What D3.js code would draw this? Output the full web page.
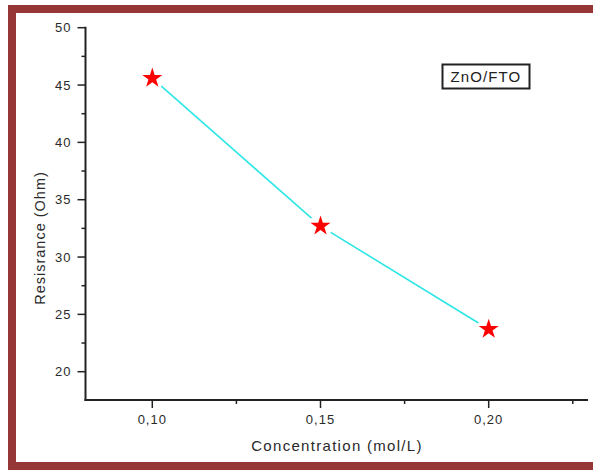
<!DOCTYPE html>
<html lang='en'>
<head>
    <meta charset='UTF-8'>
    <title>ZnO/FTO resistance</title>
    <script src='https://cdnjs.cloudflare.com/ajax/libs/d3/7.8.5/d3.min.js'></script>
    <style>
        html, body { margin: 0; padding: 0; background: #fff; }
        svg { display: block; font-family: Arial, 'Liberation Sans', sans-serif; }
    </style>
</head>
<body>
    <div id='anchor'></div>
    <script>
        // data
        const concentration = [0.10, 0.15, 0.20];
        const resistance = [45.6, 32.7, 23.7];
        const yTicks = [20, 25, 30, 35, 40, 45, 50];
        const xTicks = [0.10, 0.15, 0.20];
        const seriesName = 'ZnO/FTO';

        const W = 593, H = 471;
        const svg = d3.select('#anchor').append('svg')
            .attr('width', W)
            .attr('height', H);

        // frame (left, top, bottom)
        const frame = '#973636';
        svg.append('rect').attr('x', 8).attr('y', 5).attr('width', W - 8).attr('height', 8).attr('fill', frame);
        svg.append('rect').attr('x', 8).attr('y', 5).attr('width', 8).attr('height', 465).attr('fill', frame);
        svg.append('rect').attr('x', 8).attr('y', 462).attr('width', W - 8).attr('height', 8).attr('fill', frame);

        const x = d3.scaleLinear().domain([0.10, 0.20]).range([152.3, 488.7]);
        const y = d3.scaleLinear().domain([20, 50]).range([371.7, 27.7]);
        const x0 = 85.5, x1 = 588, y0 = 400, yTop = 27.7;

        const axisColor = '#222';
        const labelColor = '#2a2a2a';

        // y axis
        svg.append('line').attr('x1', x0).attr('x2', x0).attr('y1', yTop - 1).attr('y2', y0 + 1)
            .attr('stroke', axisColor).attr('stroke-width', 2);
        const yMinor = yTicks.slice(0, -1).map(v => v + 2.5);
        svg.append('g').selectAll('line').data(yTicks).join('line')
            .attr('x1', x0 - 8).attr('x2', x0)
            .attr('y1', d => y(d)).attr('y2', d => y(d))
            .attr('stroke', axisColor).attr('stroke-width', 1.5);
        svg.append('g').selectAll('line').data(yMinor).join('line')
            .attr('x1', x0 - 4).attr('x2', x0)
            .attr('y1', d => y(d)).attr('y2', d => y(d))
            .attr('stroke', axisColor).attr('stroke-width', 1.5);
        svg.append('g').selectAll('text').data(yTicks).join('text')
            .attr('x', 71.5).attr('y', d => y(d)).attr('dy', '0.35em')
            .attr('text-anchor', 'end')
            .attr('font-size', 13).attr('letter-spacing', 1)
            .attr('fill', labelColor)
            .text(d => d);

        // x axis
        svg.append('line').attr('x1', x0 - 1).attr('x2', x1).attr('y1', y0).attr('y2', y0)
            .attr('stroke', axisColor).attr('stroke-width', 2);
        svg.append('g').selectAll('line').data(xTicks).join('line')
            .attr('x1', d => x(d)).attr('x2', d => x(d))
            .attr('y1', y0).attr('y2', y0 + 8)
            .attr('stroke', axisColor).attr('stroke-width', 1.5);
        svg.append('g').selectAll('line').data(xTicks.map(v => v + 0.025)).join('line')
            .attr('x1', d => x(d)).attr('x2', d => x(d))
            .attr('y1', y0).attr('y2', y0 + 4)
            .attr('stroke', axisColor).attr('stroke-width', 1.5);
        svg.append('g').selectAll('text').data(xTicks).join('text')
            .attr('x', d => x(d)).attr('y', 419).attr('dy', '0.35em')
            .attr('text-anchor', 'middle')
            .attr('font-size', 13).attr('letter-spacing', 1)
            .attr('fill', labelColor)
            .text(d => d3.format('.2f')(d).replace('.', ','));

        // axis titles
        svg.append('text')
            .attr('x', 337).attr('y', 446).attr('dy', '0.35em')
            .attr('text-anchor', 'middle')
            .attr('font-size', 15).attr('letter-spacing', 1.3)
            .attr('fill', labelColor)
            .text('Concentration (mol/L)');
        svg.append('text')
            .attr('transform', 'translate(40,238) rotate(-90)')
            .attr('dy', '0.35em')
            .attr('text-anchor', 'middle')
            .attr('font-size', 14.5).attr('letter-spacing', 1)
            .attr('fill', labelColor)
            .text('Resisrance (Ohm)');

        // connecting line, with a gap round each star
        const pts = concentration.map((c, i) => [x(c), y(resistance[i])]);
        const gap = 12;
        const segs = d3.pairs(pts).map(([a, b]) => {
            const dx = b[0] - a[0], dy = b[1] - a[1];
            const len = Math.hypot(dx, dy);
            const ux = dx / len, uy = dy / len;
            return [a[0] + ux * gap, a[1] + uy * gap, b[0] - ux * gap, b[1] - uy * gap];
        });
        svg.append('g').selectAll('line').data(segs).join('line')
            .attr('x1', d => d[0]).attr('y1', d => d[1])
            .attr('x2', d => d[2]).attr('y2', d => d[3])
            .attr('stroke', '#2ee6e6').attr('stroke-width', 1.6);

        // stars
        svg.append('g').selectAll('path').data(pts).join('path')
            .attr('transform', d => `translate(${d[0]},${d[1]})`)
            .attr('d', d3.symbol(d3.symbolStar, 125))
            .attr('fill', '#ff0000');

        // legend box
        svg.append('rect')
            .attr('x', 442.5).attr('y', 64.5).attr('width', 87).attr('height', 24)
            .attr('fill', '#fff').attr('stroke', '#222').attr('stroke-width', 2);
        svg.append('text')
            .attr('x', 486).attr('y', 77).attr('dy', '0.35em')
            .attr('text-anchor', 'middle')
            .attr('font-size', 15).attr('letter-spacing', 1.1)
            .attr('fill', '#222')
            .text(seriesName);
    </script>
</body>
</html>
